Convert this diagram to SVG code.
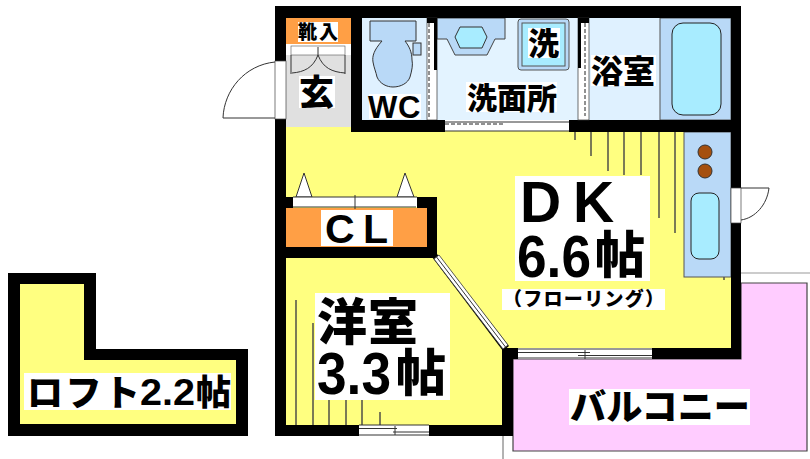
<svg xmlns="http://www.w3.org/2000/svg" width="810" height="459" viewBox="0 0 810 459">
<style>
.w{fill:#000}
.t{font-family:"Noto Sans CJK JP","Liberation Sans",sans-serif;font-weight:900;fill:#000}
.l{font-family:"Liberation Sans",sans-serif;font-weight:700;fill:#000}
.bg{fill:#fff}
.ln{stroke:#333;stroke-width:1;fill:none}
.h{stroke:#444;stroke-width:1.4;fill:none}
.s{stroke:#333;stroke-width:1}
.dash{stroke:#222;stroke-width:1;stroke-dasharray:4 2;fill:none}
</style>
<rect width="810" height="459" fill="#fff"/>
<g id="balcony">
<path d="M741 283H807V451H513V359H741Z" fill="#ffccff" stroke="#444" stroke-width="1.2"/>
<path d="M741 273H810" stroke="#999" fill="none"/>
<path d="M503 436V459" stroke="#666" fill="none"/>
<rect x="569" y="389" width="181" height="36" class="bg"/>
<text x="570" y="420" class="t" font-size="36" textLength="180" lengthAdjust="spacingAndGlyphs">バルコニー</text>
</g>
<g id="dk">
<rect x="286" y="127" width="445" height="221" fill="#ffff80"/>
<rect x="286" y="258" width="216" height="167" fill="#ffff80"/>
<path d="M437 258H503V348H437Z" fill="#ffff80"/>
<path class="h" d="M575 132V140M591 132V156M608 132V171M624 132V175M641 132V175M659 132V218M675 132V233M724 277V280"/>
<rect x="515" y="176" width="135" height="105" class="bg"/>
<text class="l" font-size="57" x="520" y="222">D</text>
<text class="l" font-size="57" x="573" y="222">K</text>
<text class="l" font-size="60" x="517" y="277" textLength="74" lengthAdjust="spacingAndGlyphs">6.6</text>
<text class="t" font-size="50" x="595" y="273">帖</text>
<rect x="502" y="289" width="163" height="21" class="bg"/>
<text class="t" font-size="19" x="503" y="306" font-weight="700" textLength="161" lengthAdjust="spacing">（フローリング）</text>
</g>
<g id="kitchen">
<rect x="684" y="132" width="47" height="145" fill="#b9d9f7" stroke="#555"/>
<circle cx="705" cy="152" r="7" fill="#a5500f" stroke="#333"/>
<circle cx="705" cy="171" r="7" fill="#a5500f" stroke="#333"/>
<rect x="691" y="193" width="28" height="66" rx="8" fill="#a8ecff" stroke="#222"/>
</g>
<g id="western">
<path class="h" d="M296 300V425M313 323V425M329 400V425M346 400V425M362 400V425M380 412V425"/>
<rect x="315" y="293" width="135" height="107" class="bg"/>
<text class="t" font-size="50" x="317" y="340" textLength="101" lengthAdjust="spacing">洋室</text>
<text class="l" font-size="60" x="317" y="394" textLength="74" lengthAdjust="spacingAndGlyphs">3.3</text>
<text class="t" font-size="50" x="396" y="391">帖</text>
</g>
<g id="entrance">
<rect x="286" y="55" width="65" height="72" fill="#e0e0e0"/>
<rect x="286" y="18" width="65" height="26" fill="#ff9f45"/>
<rect x="298" y="22" width="40" height="20" class="bg"/>
<text class="t" font-size="19" x="298" y="39" textLength="40" lengthAdjust="spacing">靴入</text>
<rect x="291" y="46" width="54" height="9" class="bg" stroke="#555" stroke-width=".6"/>
<path class="ln" d="M318 47V55M291 55V74M345 55V74M318 55C313 68 304 72 292 73M318 55C323 68 332 72 345 73"/>
<rect x="299" y="76" width="36" height="32" class="bg"/>
<text class="t" font-size="35" x="299" y="105">玄</text>
</g>
<g id="wc">
<rect x="362" y="18" width="65" height="102" fill="#dff1ff"/>
<path d="M370 21H416V41H405C409 46 412 52 412 60C413 65 412 70 410 77C408 83 401 87 393 87C387 87 380 84 377 77C376 72 374 68 373 62C372 56 374 50 382 41H370Z" fill="#b9d9f7" stroke="#333"/>
<rect x="413" y="43" width="8" height="12" fill="#b9d9f7" stroke="#333"/>
<rect x="369" y="94" width="52" height="25" class="bg"/>
<text class="l" font-size="31" x="368" y="118">W</text>
<text class="l" font-size="31" x="398" y="118">C</text>
</g>
<g id="washroom">
<rect x="437" y="18" width="141" height="102" fill="#e3f3ff"/>
<path d="M437 18H505V39H495L487 55H455L447 39H437Z" fill="#b9d9f7" stroke="#444"/>
<path d="M455 37L460 27H482L487 37L482 48H460Z" fill="#a8ecff" stroke="#333"/>
<rect x="518" y="19" width="51" height="51" rx="3" fill="#b9d9f7" stroke="#555"/>
<rect x="522" y="23" width="43" height="43" fill="#a8ecff" stroke="#555"/>
<rect x="528" y="28" width="32" height="30" class="bg"/>
<text class="t" font-size="31" x="528" y="55">洗</text>
<rect x="466" y="82" width="91" height="30" class="bg"/>
<text class="t" font-size="30" x="467" y="109" textLength="90" lengthAdjust="spacing">洗面所</text>
</g>
<g id="bath">
<rect x="589" y="18" width="71" height="102" fill="#dff1ff"/>
<rect x="660" y="18" width="71" height="102" fill="#b9d9f7" stroke="#555"/>
<rect x="672" y="23" width="49" height="92" rx="11" fill="#a8ecff" stroke="#222"/>
<rect x="591" y="55" width="65" height="31" class="bg"/>
<text class="t" font-size="32" x="591" y="83">浴室</text>
</g>
<g id="closet">
<rect x="286" y="208" width="141" height="39" fill="#ff9f45"/>
<rect x="321" y="210" width="72" height="36" class="bg"/>
<text class="l" font-size="41" x="325" y="243">C</text>
<text class="l" font-size="41" x="363" y="243">L</text>
<path d="M296 197L304 173L312 197Z" fill="#fff" stroke="#333"/>
<path d="M397 197L405 173L414 197Z" fill="#fff" stroke="#333"/>
</g>
<g id="loft">
<path fill-rule="evenodd" d="M8 273H96V349H248V436H8ZM20 284V424H236V360H84V284Z" class="w"/>
<path d="M20 284V424H236V360H84V284Z" fill="#ffff80"/>
<rect x="24" y="373" width="207" height="37" class="bg"/>
<text class="t" font-size="36" x="27" y="406" textLength="113" lengthAdjust="spacing">ロフト</text>
<text class="l" font-size="37" x="140" y="405" textLength="55" lengthAdjust="spacingAndGlyphs">2.2</text>
<text class="t" font-size="35" x="196" y="405">帖</text>
</g>
<g id="connectors">
<path class="w" fill-rule="evenodd" d="M275 6H741V273V359H652V348H731V132H569V120H731V18H362V120H445V132H351V18H286V425H359V436H275Z"/>
<rect x="275" y="119" width="11" height="306" class="w"/>
<rect x="429" y="425" width="84" height="11" class="w"/>
<rect x="502" y="350" width="11" height="86" class="w"/>
<rect x="502" y="348" width="16" height="11" class="w"/>
<path class="w" d="M286 197H293V208H286ZM417 197H437V258H286V247H427V208H417Z"/>
<rect x="427" y="18" width="10" height="102" class="bg" stroke="#333" stroke-width=".7"/>
<rect x="434" y="18" width="3" height="52" class="w"/>
<rect x="427" y="18" width="10" height="5" class="w"/>
<path class="dash" d="M429 23V118"/>
<rect x="578" y="18" width="11" height="102" class="bg" stroke="#333" stroke-width=".7"/>
<rect x="578" y="18" width="3" height="50" class="w"/>
<rect x="578" y="18" width="11" height="5" class="w"/>
<path class="dash" d="M585 23V116"/>
<rect x="351" y="120" width="94" height="12" class="w"/>
<rect x="445" y="122" width="124" height="9" class="bg"/>
<path class="ln" d="M445 122H569M445 131H569"/>
<path class="dash" d="M445 124H505"/>
<rect x="275" y="61" width="11" height="58" class="bg" stroke="#444" stroke-width=".7"/>
<path class="ln" d="M223 118H275M275 62C245 65 224 90 223 118"/>
<rect x="731" y="188" width="10" height="35" class="bg" stroke="#444" stroke-width=".7"/>
<path class="ln" d="M741 188H769C767 205 755 218 741 220"/>
<rect x="293" y="197" width="124" height="10" class="bg"/>
<path class="ln" d="M293 197H417M293 207H416M355 195V209"/>
<path d="M432 257L437 254L509 346L503 351Z" class="w"/>
<path d="M434 259L439 255L508 345L503 349Z" fill="#fff" stroke="#333" stroke-width=".8"/>
<path class="ln" d="M436.500 257L505.500 347"/>
<rect x="518" y="349" width="134" height="10" class="bg"/>
<path class="ln" d="M518 349H652M518 358H652M518 352.500H590M578 355.500H652M585 350V359"/>
<rect x="359" y="425" width="70" height="11" class="bg"/>
<path class="ln" d="M359 425H429M359 435H429M359 428.500H397M393 432H429M395 426V435"/>
</g>
</svg>
